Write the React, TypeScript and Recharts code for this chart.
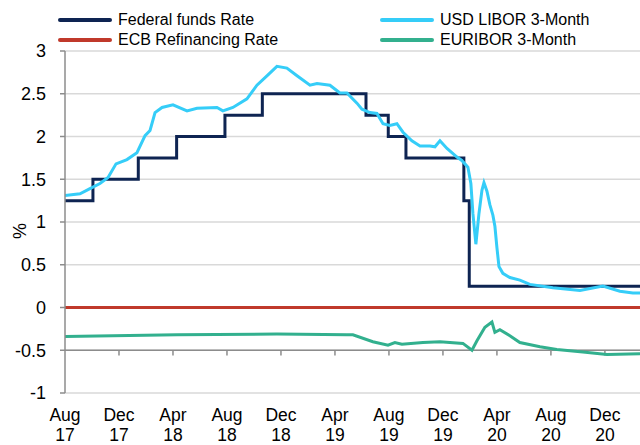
import { LineChart, Line, XAxis, YAxis, CartesianGrid, ReferenceLine } from "recharts";

// x is months since Aug 2017 (labels every 4 months)
const xTicks = [0, 4, 8, 12, 16, 20, 24, 28, 32, 36, 40];
const tickMonths = ["Aug", "Dec", "Apr", "Aug", "Dec", "Apr", "Aug", "Dec", "Apr", "Aug", "Dec"];
const tickYears = ["17", "17", "18", "18", "18", "19", "19", "19", "20", "20", "20"];
const yTicks = [-1, -0.5, 0, 0.5, 1, 1.5, 2, 2.5, 3];

const fedMonths = [0, 2.07, 5.43, 8.27, 11.85, 14.62, 22.3, 23.95, 25.26, 29.55, 29.95, 42.6];
const fedRates = [1.25, 1.5, 1.75, 2.0, 2.25, 2.5, 2.25, 2.0, 1.75, 1.25, 0.25, 0.25];

const liborMonths = [
    0, 1.11, 1.85, 2.59, 3.19, 3.78, 4.59, 5.33, 5.93, 6.3, 6.67, 7.19, 8.0, 9.04, 9.78,
    11.26, 11.7, 12.44, 13.48, 14.22, 14.96, 15.7, 16.44, 17.19, 18.15, 18.67, 19.63,
    20.37, 20.89, 21.63, 22.0, 22.59, 23.11, 23.56, 24.07, 24.59, 25.04, 25.7, 26.3,
    27.04, 27.41, 27.78, 28.3, 29.04, 29.4, 29.85, 30.07, 30.22, 30.44, 30.67, 30.89,
    31.04, 31.26, 31.48, 31.7, 31.85, 32.0, 32.15, 32.44, 32.96, 33.7, 34.44, 36.15,
    38.15, 39.85, 41.11, 42.07, 42.6
];
const liborRates = [
    1.31, 1.33, 1.39, 1.45, 1.52, 1.68, 1.73, 1.81, 2.01, 2.07, 2.28, 2.34, 2.37, 2.3, 2.33,
    2.34, 2.3, 2.34, 2.44, 2.6, 2.71, 2.82, 2.8, 2.71, 2.6, 2.62, 2.6,
    2.51, 2.51, 2.39, 2.32, 2.28, 2.27, 2.15, 2.13, 2.15, 2.05, 1.95, 1.89,
    1.89, 1.88, 1.95, 1.86, 1.76, 1.72, 1.64, 1.45, 1.1, 0.74, 1.1, 1.37,
    1.46, 1.36, 1.2, 1.08, 0.95, 0.7, 0.48, 0.4, 0.35, 0.32, 0.27, 0.23,
    0.2, 0.25, 0.19, 0.17, 0.17
];

const ecbMonths = [0, 42.6];
const ecbRates = [0, 0];

const euriborMonths = [
    0, 8.3, 15.7, 20.89, 21.33, 22.81, 23.93, 24.44, 24.96, 26.52, 27.78, 29.48, 30.15,
    30.52, 31.11, 31.63, 31.85, 32.22, 32.96, 33.7, 35.19, 36.44, 38.37, 40.15, 42.6
];
const euriborRates = [
    -0.34, -0.32, -0.31, -0.32, -0.32, -0.4, -0.44, -0.41, -0.43, -0.41, -0.4, -0.42, -0.5,
    -0.39, -0.23, -0.17, -0.29, -0.26, -0.33, -0.41, -0.46, -0.49, -0.52, -0.55, -0.54
];

const toRows = (ms: number[], vs: number[]) => ms.map((m, i) => ({ m, v: vs[i] }));

const series = [
    { name: "Federal funds Rate", color: "#0e2452", rows: toRows(fedMonths, fedRates), step: true },
    { name: "USD LIBOR 3-Month", color: "#35cdf8", rows: toRows(liborMonths, liborRates), step: false },
    { name: "ECB Refinancing Rate", color: "#c0392b", rows: toRows(ecbMonths, ecbRates), step: false },
    { name: "EURIBOR 3-Month", color: "#32b08e", rows: toRows(euriborMonths, euriborRates), step: false },
];

const FONT = '"Liberation Sans", Arial, sans-serif';
const AXIS = "#8c8c8c";

const legendItems = [
    { s: series[0], left: 58, top: 10 },
    { s: series[2], left: 58, top: 30 },
    { s: series[1], left: 380, top: 10 },
    { s: series[3], left: 380, top: 30 },
];

function XTick(props: any) {
    const { x, y, payload } = props;
    const i = xTicks.indexOf(payload.value);
    return (
        <text x={x} y={y} textAnchor="middle" fontSize={17.5} fontFamily={FONT} fill="#000">
            <tspan x={x} dy={28}>{tickMonths[i]}</tspan>
            <tspan x={x} dy={20}>{tickYears[i]}</tspan>
        </text>
    );
}

export default function App() {
    return (
        <div style={{ position: "relative", width: 640, height: 445, fontFamily: FONT }}>
            <style>{`body{margin:0}`}</style>
            <LineChart width={640} height={445} margin={{ top: 51, right: 0, bottom: 0, left: 0 }}>
                <CartesianGrid vertical={false} stroke="#d9d9d9" strokeWidth={1.5} />
                <XAxis
                    type="number"
                    dataKey="m"
                    domain={[0, 42.6]}
                    ticks={xTicks}
                    allowDataOverflow
                    height={52}
                    axisLine={false}
                    tickLine={false}
                    tickSize={0}
                    tickMargin={0}
                    tick={<XTick />}
                    interval={0}
                />
                <YAxis
                    domain={[-1, 3]}
                    ticks={yTicks}
                    width={65}
                    interval={0}
                    axisLine={{ stroke: AXIS, strokeWidth: 1.5 }}
                    tickLine={{ stroke: AXIS, strokeWidth: 1.5 }}
                    tickSize={5}
                    tickMargin={14}
                    tick={{ fontSize: 18, fill: "#000", fontFamily: FONT }}
                    label={{
                        content: () => (
                            <text x={20} y={231} transform="rotate(-90 20 231)" textAnchor="middle"
                                dominantBaseline="central" fontSize={18} fontFamily={FONT} fill="#000">
                                %
                            </text>
                        ),
                    }}
                />
                <ReferenceLine y={-0.5} stroke={AXIS} strokeWidth={1.5} />
                {xTicks.slice(1).map((t) => (
                    <ReferenceLine
                        key={t}
                        segment={[{ x: t, y: -0.5 }, { x: t, y: -0.56 }]}
                        stroke={AXIS}
                        strokeWidth={1.5}
                    />
                ))}
                {series.map((s) => (
                    <Line
                        key={s.name}
                        data={s.rows}
                        dataKey="v"
                        name={s.name}
                        type={s.step ? "stepAfter" : "linear"}
                        stroke={s.color}
                        strokeWidth={3}
                        dot={false}
                        activeDot={false}
                        isAnimationActive={false}
                    />
                ))}
            </LineChart>
            {legendItems.map(({ s, left, top }) => (
                <div key={s.name} style={{ position: "absolute", left, top, height: 20, display: "flex", alignItems: "center" }}>
                    <div style={{ width: 54, height: 4, borderRadius: 2, background: s.color }} />
                    <span style={{ marginLeft: 6, fontSize: 16, color: "#000", whiteSpace: "nowrap" }}>{s.name}</span>
                </div>
            ))}
        </div>
    );
}
